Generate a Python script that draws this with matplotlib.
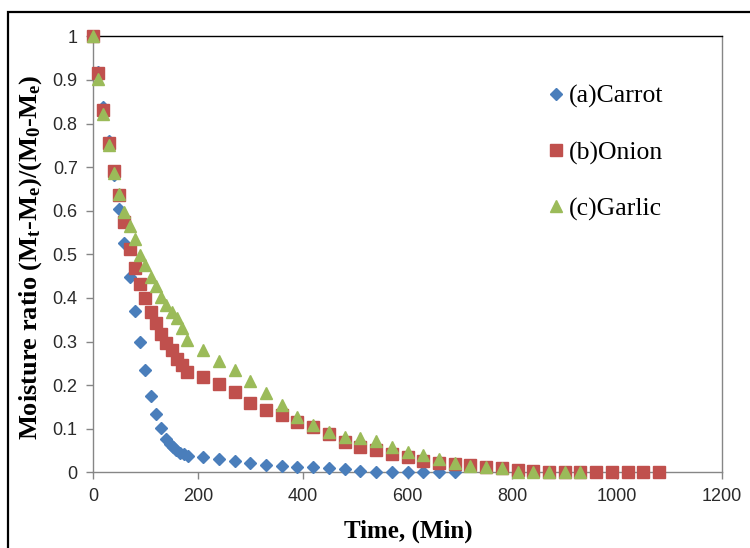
import matplotlib
matplotlib.use("Agg")
import matplotlib.pyplot as plt
from matplotlib.patches import Rectangle

# ---- data ----
carrot_t = [0, 10, 20, 30, 40, 50, 60, 70, 80, 90, 100, 110, 120, 130, 140,
            146, 152, 159, 166, 174, 182,
            210, 240, 270, 300, 330, 360, 390, 420, 450, 480, 510, 540, 570,
            600, 630, 660, 690]
carrot_mr = [1.0, 0.918, 0.838, 0.760, 0.682, 0.605, 0.527, 0.449, 0.370, 0.298,
             0.235, 0.175, 0.134, 0.101, 0.076,
             0.066, 0.058, 0.051, 0.045, 0.041, 0.037,
             0.034, 0.030, 0.026, 0.022, 0.017, 0.0145, 0.013, 0.0115, 0.009,
             0.007, 0.004, 0.0015, 0.0, 0.0, 0.0, 0.0, 0.0]

onion_t = list(range(0, 181, 10)) + list(range(210, 1081, 30))
onion_mr = [1.0, 0.915, 0.830, 0.755, 0.691, 0.636, 0.575, 0.513, 0.469, 0.431,
            0.399, 0.367, 0.342, 0.317, 0.296, 0.280, 0.261, 0.246, 0.229,
            0.218, 0.203, 0.184, 0.160, 0.143, 0.131, 0.116, 0.105,
            0.088, 0.070, 0.059, 0.051, 0.042, 0.036, 0.027, 0.022, 0.019,
            0.016, 0.013, 0.009, 0.005, 0.004, 0.001, 0.001, 0.001, 0.0,
            0.0, 0.0, 0.0, 0.0]

garlic_t = list(range(0, 181, 10)) + list(range(210, 931, 30))
garlic_mr = [1.0, 0.901, 0.821, 0.751, 0.687, 0.638, 0.598, 0.565, 0.535, 0.499,
             0.475, 0.447, 0.427, 0.403, 0.384, 0.368, 0.353, 0.330, 0.303,
             0.280, 0.255, 0.235, 0.210, 0.181, 0.154, 0.127,
             0.108, 0.093, 0.082, 0.078, 0.0725, 0.059, 0.047, 0.040, 0.030,
             0.021, 0.015, 0.013, 0.009, 0.001, 0.0, 0.0, 0.0, 0.0]

labels = ["(a)Carrot", "(b)Onion", "(c)Garlic"]
x_ticks = [0, 200, 400, 600, 800, 1000, 1200]
y_ticks = [0, 0.1, 0.2, 0.3, 0.4, 0.5, 0.6, 0.7, 0.8, 0.9, 1]
y_ticklabels = ["0", "0.1", "0.2", "0.3", "0.4", "0.5", "0.6", "0.7", "0.8", "0.9", "1"]

# ---- style ----
plt.rcParams['mathtext.fontset'] = 'custom'
plt.rcParams['mathtext.bf'] = 'Liberation Serif:bold'
plt.rcParams['mathtext.rm'] = 'Liberation Serif:bold'
plt.rcParams['mathtext.default'] = 'bf'

tick_font = ['Liberation Sans Narrow', 'Liberation Sans', 'DejaVu Sans']
serif = ['Liberation Serif', 'DejaVu Serif']

fig = plt.figure(figsize=(7.5, 5.48), dpi=100)
ax = fig.add_axes([93/750, 1-472.3/548, (722-93)/750, (472.3-36.3)/548])

blue, red, green = '#4A7EBB', '#C0504D', '#9BBB59'
ax.plot(carrot_t, carrot_mr, linestyle='none', marker='D', ms=6.3,
        color=blue, mec=blue, label=labels[0], clip_on=False, zorder=3)
ax.plot(onion_t, onion_mr, linestyle='none', marker='s', ms=8,
        color=red, mec=red, label=labels[1], clip_on=False, zorder=4)
ax.plot(garlic_t, garlic_mr, linestyle='none', marker='^', ms=8.5,
        color=green, mec=green, label=labels[2], clip_on=False, zorder=5)

ax.set_xlim(0, 1200)
ax.set_ylim(0, 1)
ax.set_xticks(x_ticks)
ax.set_yticks(y_ticks)
ax.set_yticklabels(y_ticklabels)
for lab in ax.get_xticklabels() + ax.get_yticklabels():
    lab.set_family(tick_font)
    lab.set_fontsize(13)
    lab.set_color('#2a2a2a')

grey = '#868686'
ax.spines['left'].set_color(grey)
ax.spines['bottom'].set_color(grey)
ax.spines['right'].set_color(grey)
ax.spines['top'].set_color('black')
for s in ax.spines.values():
    s.set_linewidth(1.0)
ax.tick_params(axis='both', direction='out', length=5, width=1, color=grey,
               top=False, right=False, pad=6)

ax.set_xlabel('Time, (Min)', family=serif, fontweight='bold', fontsize=18)
ax.xaxis.set_label_coords(0.501, (472.3 - 520) / 436)
ax.set_ylabel(r'Moisture ratio (M$_{t}$-M$_{e}$)/(M$_{0}$-M$_{e}$)',
              family=serif, fontweight='bold', fontsize=19)
ax.yaxis.set_label_coords((44 - 93) / 629, (472.3 - 257) / 436)

leg = ax.legend(loc='upper left', bbox_to_anchor=(533/750, 1-72/548),
                bbox_transform=fig.transFigure, frameon=False,
                prop={'family': serif, 'size': 18.5}, handletextpad=0.1,
                labelspacing=1.28, handlelength=0.8, borderpad=0)

# figure border
fig.patches.append(Rectangle((8/750, -0.05), 1.2, 1-12/548+0.05,
                             transform=fig.transFigure, fill=False,
                             edgecolor='black', linewidth=1.6))

fig.savefig('out.png', dpi=100)
